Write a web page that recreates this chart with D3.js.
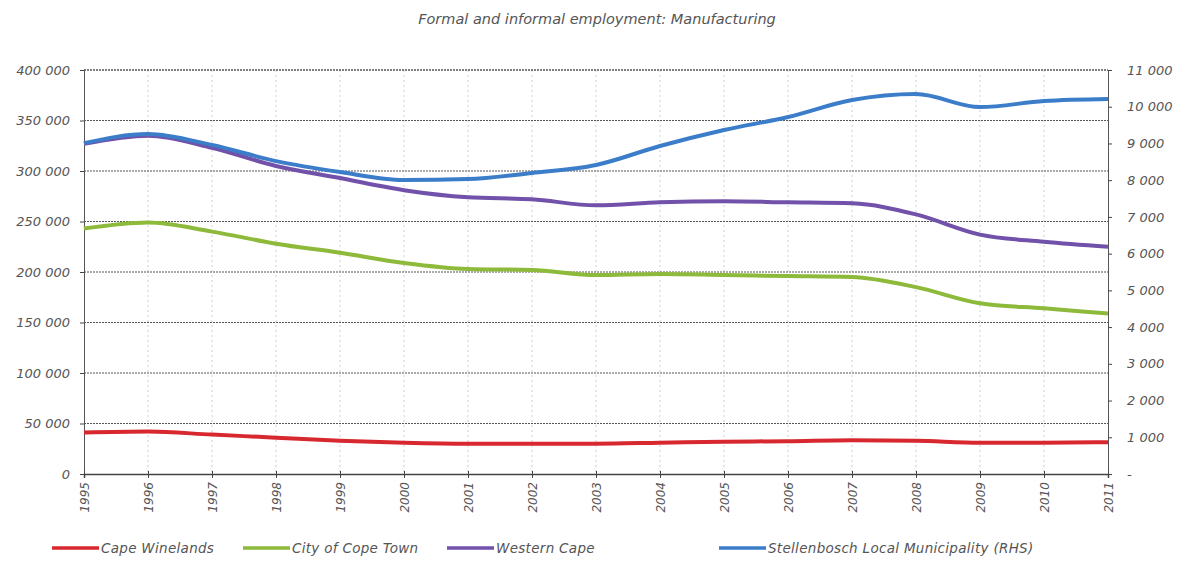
<!DOCTYPE html>
<html>
<head>
<meta charset="utf-8">
<script src="https://cdn.jsdelivr.net/npm/d3@7"></script>
<style>
  body { margin: 0; background: #fff; }
  text { font-family: "DejaVu Sans", sans-serif; font-style: italic; fill: #555; }
  .tick line { stroke: #444; }
</style>
</head>
<body>
<svg width="1187" height="565"></svg>
<script>
const years = [1995, 1996, 1997, 1998, 1999, 2000, 2001, 2002, 2003, 2004, 2005, 2006, 2007, 2008, 2009, 2010, 2011];

const capeWinelands = [41000, 42000, 39000, 36000, 33000, 31000, 30000, 30000, 30000, 31000, 32000, 32500, 33500, 33000, 31000, 31000, 31500];
const cityOfCapeTown = [243000, 249000, 240000, 228000, 219000, 209000, 203000, 202000, 197000, 198000, 197000, 196000, 195000, 185000, 169000, 164000, 159000];
const westernCape = [327000, 335000, 323000, 305000, 293000, 281000, 274000, 272000, 266000, 269000, 270000, 269000, 268000, 257000, 237000, 230000, 225000];
const stellenbosch = [9010, 9257, 8957, 8520, 8222, 8004, 8030, 8195, 8413, 8930, 9366, 9720, 10183, 10346, 9990, 10155, 10210];

const leftTicks = [0, 50000, 100000, 150000, 200000, 250000, 300000, 350000, 400000];
const rightTicks = [0, 1000, 2000, 3000, 4000, 5000, 6000, 7000, 8000, 9000, 10000, 11000];

const seriesNames = ["Cape Winelands", "City of Cope Town", "Western Cape", "Stellenbosch Local Municipality (RHS)"];
const seriesColors = ["#d7282f", "#8dba3a", "#7151a9", "#3b7dc9"];

const svg = d3.select("svg");
const margin = { top: 70, right: 79, bottom: 91, left: 84 };
const width = +svg.attr("width");
const height = +svg.attr("height");
const innerWidth = width - margin.left - margin.right;
const innerHeight = height - margin.top - margin.bottom;

const fmt = v => v === 0 ? "0" : d3.format(",")(v).replace(/,/g, " ");

const xScale = d3.scaleLinear().domain([1995, 2011]).range([0, innerWidth]);
const yLeft = d3.scaleLinear().domain([0, 400000]).range([innerHeight, 0]);
const yRight = d3.scaleLinear().domain([0, 11000]).range([innerHeight, 0]);

svg.append("text")
  .attr("x", 597)
  .attr("y", 24)
  .attr("text-anchor", "middle")
  .style("font-size", "14.5px")
  .text("Formal and informal employment: Manufacturing");

const g = svg.append("g").attr("transform", `translate(${margin.left},${margin.top})`);

// vertical faint grid
g.append("g")
  .selectAll("line")
  .data(years.slice(1, -1))
  .join("line")
  .attr("x1", d => xScale(d)).attr("x2", d => xScale(d))
  .attr("y1", 0).attr("y2", innerHeight)
  .attr("stroke", "#cfcfcf")
  .attr("stroke-dasharray", "2,3");

// horizontal dotted grid
g.append("g")
  .selectAll("line")
  .data(leftTicks.slice(1))
  .join("line")
  .attr("x1", 0).attr("x2", innerWidth)
  .attr("y1", d => yLeft(d)).attr("y2", d => yLeft(d))
  .attr("stroke", "#555")
  .attr("stroke-width", d => d === 400000 ? 1.6 : 1)
  .attr("stroke-dasharray", "2,1");

// left axis
const yAxisG = g.append("g")
  .call(d3.axisLeft(yLeft).tickValues(leftTicks).tickSize(4).tickPadding(10).tickFormat(fmt));
yAxisG.select(".domain").attr("stroke", "#555");
yAxisG.selectAll("text").style("font-size", "13px");

// right axis
const yAxisR = g.append("g")
  .attr("transform", `translate(${innerWidth},0)`)
  .call(d3.axisRight(yRight).tickValues(rightTicks).tickSize(4).tickPadding(15)
    .tickFormat(v => v === 0 ? "-" : fmt(v)));
yAxisR.select(".domain").attr("stroke", "#555");
yAxisR.selectAll("text").style("font-size", "13px");

// bottom axis
const xAxisG = g.append("g")
  .attr("transform", `translate(0,${innerHeight})`)
  .call(d3.axisBottom(xScale).tickValues(years).tickSize(4).tickFormat(d3.format("d")));
xAxisG.select(".domain").attr("stroke", "#444").attr("stroke-width", 1.5);
xAxisG.selectAll(".tick line").attr("y1", -3);
xAxisG.selectAll("text")
  .style("font-size", "12px")
  .attr("transform", "rotate(-90)")
  .attr("text-anchor", "end")
  .attr("x", -8)
  .attr("y", 0)
  .attr("dy", "0.35em");

// lines
const leftLine = d3.line().x((d, i) => xScale(years[i])).y(d => yLeft(d)).curve(d3.curveMonotoneX);
const rightLine = d3.line().x((d, i) => xScale(years[i])).y(d => yRight(d)).curve(d3.curveMonotoneX);

const seriesData = [
  { values: capeWinelands, line: leftLine },
  { values: cityOfCapeTown, line: leftLine },
  { values: westernCape, line: leftLine },
  { values: stellenbosch, line: rightLine }
];

seriesData.forEach((s, i) => {
  g.append("path")
    .attr("d", s.line(s.values))
    .attr("fill", "none")
    .attr("stroke", seriesColors[i])
    .attr("stroke-width", 4)
    .attr("stroke-linejoin", "round");
});

// legend
const legendX = [52, 243, 447, 719];
const legend = svg.append("g").attr("transform", "translate(0,548)");
seriesNames.forEach((name, i) => {
  legend.append("line")
    .attr("x1", legendX[i]).attr("x2", legendX[i] + 47)
    .attr("y1", 0).attr("y2", 0)
    .attr("stroke", seriesColors[i])
    .attr("stroke-width", 3.5);
  legend.append("text")
    .attr("x", legendX[i] + 49)
    .attr("y", 0)
    .attr("dy", "0.35em")
    .style("font-size", "13.5px")
    .style("letter-spacing", "0.3px")
    .text(name);
});
</script>
</body>
</html>
